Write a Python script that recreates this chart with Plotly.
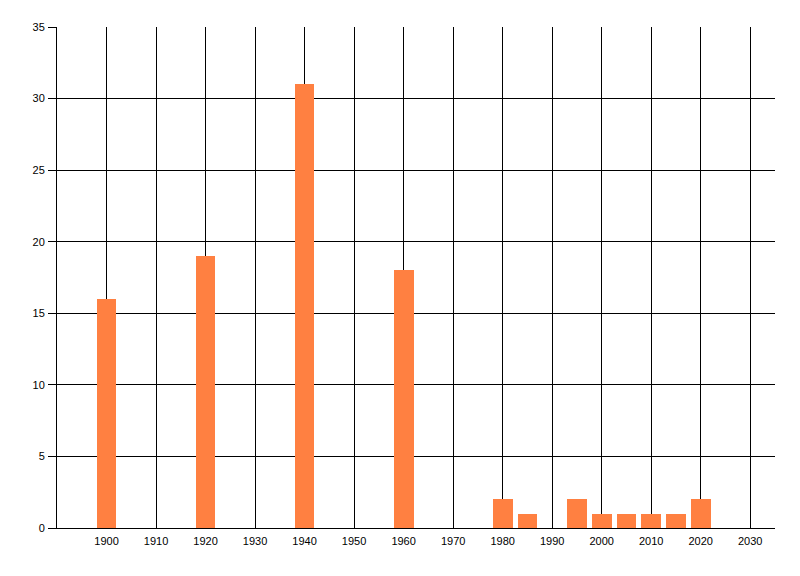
import plotly.graph_objects as go

years = [1900, 1920, 1940, 1960, 1980, 1985, 1995, 2000, 2005, 2010, 2015, 2020]
counts = [16, 19, 31, 18, 2, 1, 2, 1, 1, 1, 1, 2]
x_ticks = list(range(1900, 2031, 10))
y_ticks = list(range(0, 36, 5))

fig = go.Figure()
fig.add_trace(go.Bar(x=years, y=counts, width=4, marker=dict(color="#FF8041", line=dict(width=0))))

fig.update_layout(
    width=792, height=568,
    margin=dict(l=49, r=25, t=19, b=48, autoexpand=False),
    paper_bgcolor="white", plot_bgcolor="white",
    font=dict(family="Liberation Sans, Arial, sans-serif", size=11, color="black"),
    showlegend=False,
    bargap=0,
)
fig.update_xaxes(
    range=[1890, 2035], tickvals=x_ticks, ticktext=[str(v) for v in x_ticks],
    showgrid=True, gridcolor="black", gridwidth=1,
    showline=True, linecolor="black", linewidth=1,
    ticks="", zeroline=False, ticklabelstandoff=3,
)
fig.update_yaxes(
    range=[0, 35], tickvals=y_ticks,
    showgrid=True, gridcolor="black", gridwidth=1,
    showline=True, linecolor="black", linewidth=1,
    ticks="outside", ticklen=8, tickcolor="black", ticklabelstandoff=1,
    zeroline=False,
)
fig.write_html("out.html")
